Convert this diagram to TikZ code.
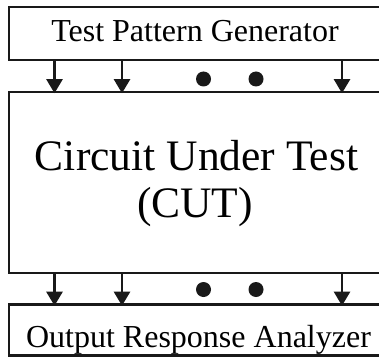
\documentclass[tikz,border=0pt]{standalone}
\usepackage{fontspec}
\setmainfont{Liberation Serif}
\usetikzlibrary{arrows.meta}
\begin{document}
\begin{tikzpicture}[x=1pt,y=-1pt,
  box/.style={draw=black!90, line width=2.4pt, inner sep=0pt, outer sep=0pt, minimum width=376pt},
  lbl/.style={anchor=base, inner sep=0pt, font=\fontsize{32}{38}\selectfont, text=black},
  biglbl/.style={anchor=base, inner sep=0pt, font=\fontsize{43.5}{50}\selectfont, text=black},
  arr/.style={line width=2.4pt, draw=black!90, -{Triangle[length=14pt,width=16pt]}},
  dot/.style={circle, fill=black!90, inner sep=0pt, minimum size=15pt}]
\useasboundingbox (0,0) rectangle (379,358);
\clip (0,0) rectangle (379,358);
\fill[white] (0,0) rectangle (379,358);
% boxes
\node[box, minimum height=53pt] (tpg) at (197,33.5) {};
\node[box, minimum height=181pt] (cut) at (197,182.5) {};
\node[box, minimum height=51pt] (ora) at (197,330) {};
% labels
\node[lbl] (tpgtext) at (195,41.7) {Test Pattern Generator};
\node[biglbl] (cuttext1) at (196.5,170) {Circuit Under Test};
\node[biglbl] (cuttext2) at (195,217) {(CUT)};
\node[lbl] (oratext) at (198.5,347) {Output Response Analyzer};
% arrow columns
\coordinate (c1) at (54.5,0);
\coordinate (c2) at (122,0);
\coordinate (c3) at (342,0);
\foreach \c in {c1,c2,c3} {
  \draw[arr] (\c |- tpg.south) -- ([yshift=-1.2pt]\c |- cut.north);
  \draw[arr] (\c |- cut.south) -- ([yshift=-1.2pt]\c |- ora.north);
}
% dots
\node[dot] (d1) at (203.5,79) {};
\node[dot] (d2) at (256,79) {};
\node[dot] (d3) at (203.5,289.5) {};
\node[dot] (d4) at (256,289.5) {};
\end{tikzpicture}
\end{document}
